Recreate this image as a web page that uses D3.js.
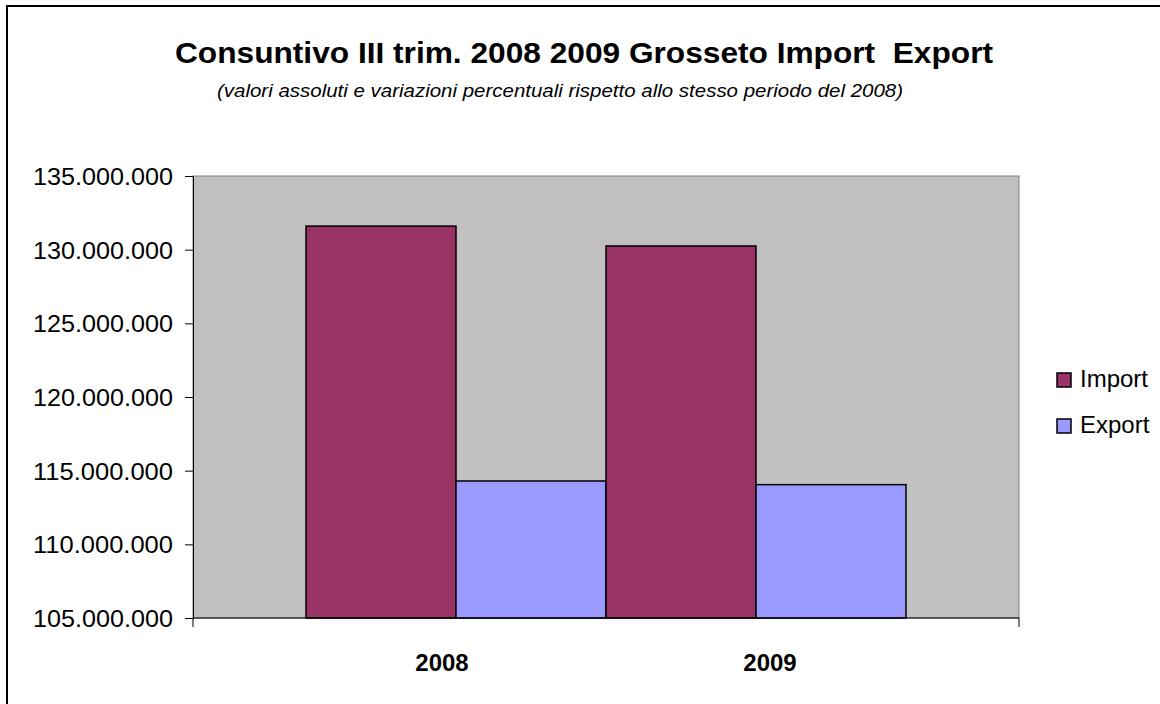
<!DOCTYPE html>
<html>
<head>
<meta charset="utf-8">
<script src="https://cdn.jsdelivr.net/npm/d3@7"></script>
<style>
  html, body { margin: 0; padding: 0; background: #ffffff; }
  svg { display: block; }
  text { font-family: "Liberation Sans", Arial, sans-serif; fill: #000; }
</style>
</head>
<body>
<svg id="chart" width="1160" height="704"></svg>
<script>
// ---- data ----
const categories = ["2008", "2009"];
const seriesNames = ["Import", "Export"];
const importValues = [131600000, 130250000];
const exportValues = [114300000, 114050000];
const yTicks = [105000000, 110000000, 115000000, 120000000, 125000000, 130000000, 135000000];
const titleText = "Consuntivo III trim. 2008 2009 Grosseto Import  Export";
const subtitleText = "(valori assoluti e variazioni percentuali rispetto allo stesso periodo del 2008)";

// ---- styles ----
const colors = { Import: "#993366", Export: "#9999FF" };
const plot = { left: 193, right: 1019, top: 176, bottom: 618 };

const svg = d3.select("#chart");

// outer border
svg.append("rect")
  .attr("x", 7).attr("y", 6).attr("width", 1200).attr("height", 800)
  .attr("fill", "#fff").attr("stroke", "#000").attr("stroke-width", 2);

// title
svg.append("text")
  .attr("x", 584).attr("y", 63)
  .attr("text-anchor", "middle")
  .style("white-space", "pre")
  .attr("font-size", 30).attr("font-weight", "bold")
  .attr("textLength", 818).attr("lengthAdjust", "spacingAndGlyphs")
  .text(titleText);

svg.append("text")
  .attr("x", 560).attr("y", 97)
  .attr("text-anchor", "middle")
  .attr("font-size", 18).attr("font-style", "italic")
  .attr("textLength", 686).attr("lengthAdjust", "spacingAndGlyphs")
  .text(subtitleText);

// scales
const y = d3.scaleLinear().domain([105000000, 135000000]).range([plot.bottom, plot.top]);
const x0 = d3.scaleBand().domain(categories).range([plot.left, plot.right])
  .paddingInner(0).paddingOuter(0.3767);
const x1 = d3.scaleBand().domain(seriesNames).range([0, x0.bandwidth()]).padding(0);

const locale = d3.formatLocale({ decimal: ",", thousands: ".", grouping: [3], currency: ["", ""] });
const fmt = locale.format(",");

// plot background
svg.append("rect")
  .attr("x", plot.left).attr("y", plot.top)
  .attr("width", plot.right - plot.left).attr("height", plot.bottom - plot.top)
  .attr("fill", "#C0C0C0").attr("stroke", "#808080").attr("stroke-width", 1);

// bars
const data = [];
categories.forEach((c, i) => {
  data.push({ cat: c, s: "Import", v: importValues[i] });
  data.push({ cat: c, s: "Export", v: exportValues[i] });
});
svg.append("g").selectAll("rect").data(data).join("rect")
  .attr("x", d => x0(d.cat) + x1(d.s))
  .attr("y", d => y(d.v))
  .attr("width", x1.bandwidth())
  .attr("height", d => y(105000000) - y(d.v))
  .attr("fill", d => colors[d.s])
  .attr("stroke", "#000").attr("stroke-width", 1.5);

// y axis
const yAxis = d3.axisLeft(y).tickValues(yTicks).tickSize(8).tickPadding(12).tickFormat(fmt);
const gy = svg.append("g").attr("transform", `translate(${plot.left},0)`).call(yAxis);
gy.select(".domain").attr("stroke", "#000").attr("stroke-width", 1);
gy.selectAll(".tick line").attr("stroke", "#000");
gy.selectAll(".tick text")
  .attr("font-family", "'Liberation Sans', Arial, sans-serif")
  .attr("font-size", 24).attr("fill", "#000")
  .attr("textLength", 140).attr("lengthAdjust", "spacingAndGlyphs")
  .attr("dy", "0.36em");

// x axis baseline + end ticks
svg.append("line")
  .attr("x1", plot.left).attr("x2", plot.right)
  .attr("y1", plot.bottom).attr("y2", plot.bottom)
  .attr("stroke", "#000").attr("stroke-width", 1);
[plot.left, plot.right].forEach(px => {
  svg.append("line").attr("x1", px).attr("x2", px)
    .attr("y1", plot.bottom).attr("y2", plot.bottom + 9)
    .attr("stroke", "#000");
});

// category labels
const labelNudge = [-14, 14];
svg.append("g").selectAll("text").data(categories).join("text")
  .attr("x", (d, i) => x0(d) + x0.bandwidth() / 2 + labelNudge[i])
  .attr("y", 671)
  .attr("text-anchor", "middle")
  .attr("font-size", 24).attr("font-weight", "bold")
  .text(d => d);

// legend
const legend = svg.append("g").selectAll("g").data(seriesNames).join("g")
  .attr("transform", (d, i) => `translate(1057, ${373 + i * 46})`);
legend.append("rect")
  .attr("width", 14).attr("height", 14)
  .attr("fill", d => colors[d]).attr("stroke", "#000").attr("stroke-width", 1.5);
legend.append("text")
  .attr("x", 23).attr("y", 14)
  .attr("font-size", 24)
  .text(d => d);
</script>
</body>
</html>
